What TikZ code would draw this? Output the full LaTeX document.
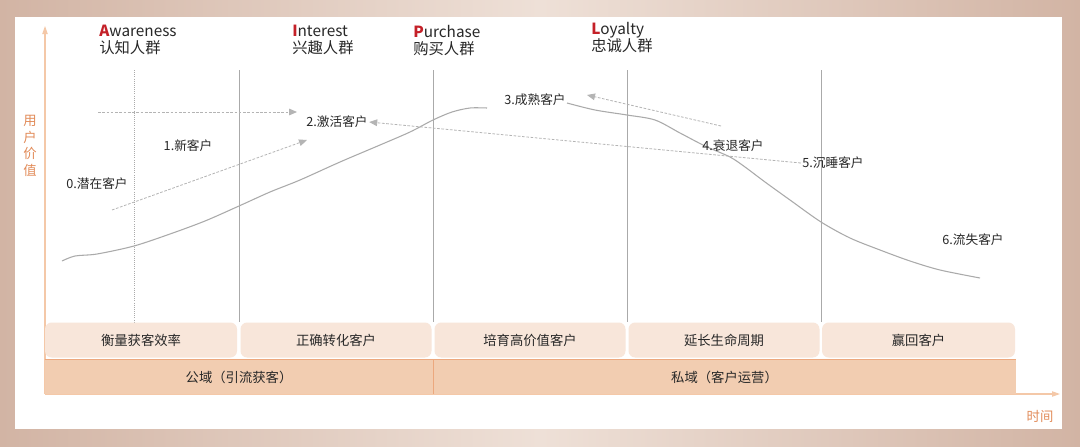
\documentclass[tikz,border=0pt]{standalone}
\usepackage{fontspec}
\setmainfont{Noto Sans CJK SC}
\usepackage{tikz}
\usetikzlibrary{arrows.meta, positioning}
\definecolor{lcbg}{RGB}{210,180,164}
\definecolor{lcbglight}{RGB}{238,224,215}
\definecolor{lcaxis}{RGB}{244,200,168}
\definecolor{lcorange}{RGB}{226,140,90}
\definecolor{lcred}{RGB}{196,32,40}
\definecolor{lctext}{RGB}{40,40,40}
\definecolor{lcline}{RGB}{170,170,170}
\definecolor{lcdash}{RGB}{180,180,180}
\definecolor{lcband}{RGB}{248,230,218}
\definecolor{lcbase}{RGB}{242,205,177}
\definecolor{lcbaseedge}{RGB}{236,168,126}

\begin{document}
\begin{tikzpicture}[x=0.75pt, y=-0.75pt,
  stage/.style={font=\fontsize{11.5}{12.5}\selectfont, text=lctext, anchor=north west, align=left, inner sep=0pt},
  cust/.style={font=\fontsize{9.5}{11}\selectfont, text=lctext, inner sep=1pt},
  goal/.style={fill=lcband, rounded corners=5pt, minimum height=35*0.75pt, inner sep=0pt, font=\fontsize{10}{12}\selectfont, text=lctext},
  realm/.style={fill=lcbase, minimum height=34*0.75pt, inner sep=0pt, font=\fontsize{10}{12}\selectfont, text=lctext},
  divider/.style={lcline, line width=0.6pt},
  hint/.style={lcdash, dash pattern=on 2pt off 1.2pt, line width=0.6pt, -{Triangle[length=6pt, width=5pt]}},
  axis/.style={lcaxis, line width=0.8pt, -{Triangle[length=6pt, width=4pt]}}
]

% background and panel
\useasboundingbox (0,0) rectangle (1080,446);
\shade[left color=lcbg, right color=lcbg, middle color=lcbglight] (0,0) rectangle (1080,446);
\fill[white] (15,17) rectangle (1062,429);

% axes
\draw[axis] (45,394) -- (45,26);
\draw[axis] (45,394) -- (1060,394);
\node[font=\fontsize{10}{12.5}\selectfont, text=lcorange, align=center, inner sep=0pt] (yval) at (30,146) {用\\户\\价\\值};
\node[font=\fontsize{10}{12}\selectfont, text=lcorange, inner sep=0pt] (tlabel) at (1040,416) {时间};

% stage headings
\node[stage] (aware) at (99,25) {\textcolor{lcred}{\bfseries A}wareness\\认知人群};
\node[stage] (inter) at (292,25) {\textcolor{lcred}{\bfseries I}nterest\\兴趣人群};
\node[stage] (purch) at (413,25) {\textcolor{lcred}{\bfseries P}urchase\\购买人群};
\node[stage] (loyal) at (591,22) {\textcolor{lcred}{\bfseries L}oyalty\\忠诚人群};

% dividers
\draw[lcline, densely dotted, line width=0.6pt] (134,70) -- (134,322);
\foreach \xd in {239,433,627,821}
  \draw[divider] (\xd,70) -- (\xd,322);

% value curve
\draw[lcline, line width=0.8pt] plot[smooth, tension=0.5] coordinates {
  (62,261) (75,256) (97,254) (134,246) (170,234) (205,221) (239,206)
  (270,192) (300,180) (340,162) (380,145) (410,132) (433,120) (452,112)
  (470,108) (487,108)};
\draw[lcline, line width=0.8pt] plot[smooth, tension=0.5] coordinates {
  (567,103) (595,110) (627,115) (655,120) (680,133) (705,146) (730,157)
  (745,167) (765,182) (790,200) (821,222) (850,238) (880,250) (910,261)
  (940,270) (980,278)};

% customer states
\node[cust] (s0) at (97,184) {0.潜在客户};
\node[cust] (s1) at (188,146) {1.新客户};
\node[cust] (s2) at (337,122) {2.激活客户};
\node[cust, fill=white, inner sep=0pt] (s3) at (535,100) {3.成熟客户};
\node[cust] (s4) at (733,146) {4.衰退客户};
\node[cust] (s5) at (833,163) {5.沉睡客户};
\node[cust] (s6) at (973,240) {6.流失客户};

% flows between states
\coordinate (f0) at (98,112);
\coordinate (f1) at (112,210);
\coordinate (f4) at (721,126);
\draw[hint] (f0) -- (297,112);
\draw[hint] (f1) -- (307,140);
\draw[hint] (s5.west) -- (s2.east);
\draw[hint] (f4) -- (587,95);

% goals
\node[goal, minimum width=192*0.75pt] (g1) at (141,340) {衡量获客效率};
\node[goal, minimum width=191*0.75pt] (g2) at (336,340) {正确转化客户};
\node[goal, minimum width=191*0.75pt] (g3) at (530,340) {培育高价值客户};
\node[goal, minimum width=191*0.75pt] (g4) at (724,340) {延长生命周期};
\node[goal, minimum width=193*0.75pt] (g5) at (918.5,340) {赢回客户};

% public and private realms
\node[realm, minimum width=388*0.75pt] (pub) at (239,377) {公域（引流获客）};
\node[realm, minimum width=583*0.75pt] (priv) at (724.5,377) {私域（客户运营）};
\draw[lcbaseedge, line width=0.8pt] (pub.north west) -- (priv.north east);
\draw[lcbaseedge, line width=0.5pt] (pub.north east) -- (pub.south east);
\end{tikzpicture}
\end{document}
